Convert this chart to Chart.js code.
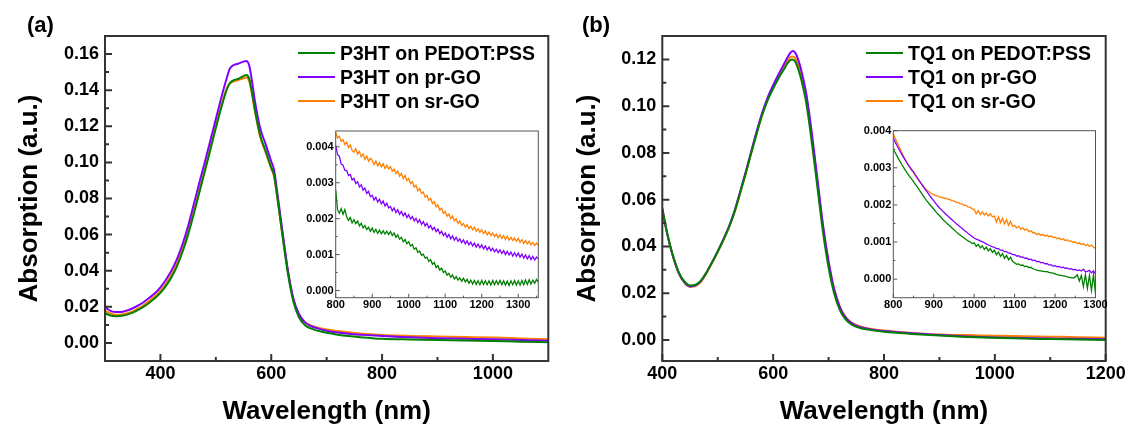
<!DOCTYPE html>
<html><head><meta charset="utf-8">
<script src="https://cdn.jsdelivr.net/npm/chart.js@4"></script>
<style>
html,body{margin:0;padding:0;background:#fff;overflow:hidden;width:1131px;height:427px;position:relative;}
canvas{position:absolute;}
.lbl{position:absolute;font-family:"Liberation Sans",Arial,sans-serif;font-weight:bold;color:#000;white-space:nowrap;}
.sw{position:absolute;height:2px;}
</style></head><body>
<canvas id="mainA" width="580" height="427" style="left:0px;top:0px"></canvas>
<canvas id="mainB" width="600" height="427" style="left:560px;top:0px"></canvas>
<canvas id="insetA" width="260" height="204" style="left:295px;top:118px"></canvas>
<canvas id="insetB" width="275" height="204" style="left:850px;top:118px"></canvas>
<script>
// ---------- data: panel (a), P3HT ----------
const wlA = [300,310,320,330,340,350,360,370,380,390,400,410,420,430,440,450,460,470,480,490,500,510,520,525,530,540,550,555,560,565,570,580,590,600,605,610,620,630,640,650,660,670,680,690,700,720,740,760,780,800,850,900,950,1000,1050,1100];
const greenA = [.0165,.0152,.0148,.0150,.0157,.0168,.0183,.0201,.0223,.0247,
 .0277,.0316,.0364,.0426,.0505,.0600,.0712,.0830,.0948,.1068,
 .1190,.1305,.1405,
 .1438,.1452,.1462,.1478,.1484,.1465,.1392,.1300,.1150,.1062,
 .0972,.0930,.0828,.0600,.0385,.0228,.0142,.0101,.0082,.0071,.0063,.0057,
 .0046,.0038,.0032,.0027,.0023,.0019,.0016,.0014,.0011,.0007,.0004];
const purpleA = [.0198,.0178,.0171,.0172,.0180,.0192,.0208,.0227,.0250,.0275,
 .0308,.0350,.0401,.0466,.0548,.0648,.0765,.0885,.1000,.1120,
 .1240,.1360,.1470,
 .1518,.1535,.1546,.1558,.1562,.1540,.1455,.1350,.1190,.1100,
 .1005,.0960,.0855,.0625,.0405,.0245,.0160,.0117,.0096,.0084,.0075,.0068,
 .0058,.0051,.0046,.0042,.0038,.0031,.0026,.0023,.0020,.0016,.0012];
const orangeA = [.0180,.0163,.0156,.0157,.0164,.0175,.0191,.0210,.0233,.0258,
 .0289,.0329,.0378,.0441,.0521,.0617,.0728,.0845,.0960,.1080,
 .1200,.1315,.1412,
 .1436,.1445,.1455,.1466,.1470,.1452,.1382,.1292,.1142,.1055,
 .0965,.0924,.0825,.0605,.0398,.0242,.0158,.0118,.0099,.0088,.0080,.0074,
 .0066,.0059,.0053,.0048,.0044,.0039,.0036,.0033,.0030,.0025,.0020];

// inset (a): 800-1355 nm
const insetXA = [800,805,810,815,820,825,830,835,840,845,850,855,860,865,870,875,880,885,890,895,
 900,905,910,915,920,925,930,935,940,945,950,955,960,965,970,975,980,985,990,995,
 1000,1005,1010,1015,1020,1025,1030,1035,1040,1045,1050,1055,1060,1065,1070,1075,1080,1085,1090,1095,
 1100,1105,1110,1115,1120,1125,1130,1135,1140,1145,1150,1155,1160,1165,1170,1175,1180,1185,1190,1195,
 1200,1205,1210,1215,1220,1225,1230,1235,1240,1245,1250,1255,1260,1265,1270,1275,1280,1285,1290,1295,
 1300,1305,1310,1315,1320,1325,1330,1335,1340,1345,1350,1355];
const insetOrangeA = [.00440,.00425,.00429,.00415,.00420,.00406,.00413,.00398,.00405,.00390,
 .00385,.00395,.00380,.00387,.00372,.00380,.00365,.00374,.00360,.00368,
 .00363,.00350,.00360,.00347,.00356,.00344,.00353,.00340,.00349,.00338,
 .00345,.00332,.00338,.00326,.00333,.00318,.00326,.00312,.00320,.00306,
 .00312,.00298,.00303,.00288,.00293,.00278,.00284,.00270,.00274,.00260,
 .00265,.00251,.00256,.00242,.00247,.00233,.00238,.00224,.00229,.00215,
 .00220,.00207,.00213,.00200,.00207,.00194,.00200,.00187,.00194,.00181,
 .00187,.00176,.00183,.00172,.00179,.00169,.00176,.00165,.00172,.00162,
 .00169,.00158,.00166,.00155,.00163,.00153,.00160,.00150,.00157,.00147,
 .00155,.00145,.00153,.00142,.00151,.00140,.00148,.00139,.00146,.00137,
 .00145,.00134,.00142,.00131,.00139,.00130,.00137,.00127,.00134,.00125,.00132,.00126];
const insetPurpleA = [.00405,.00378,.00374,.00352,.00349,.00335,.00334,.00320,.00323,.00308,
 .00312,.00298,.00303,.00288,.00294,.00279,.00285,.00270,.00276,.00261,
 .00265,.00252,.00260,.00246,.00254,.00241,.00249,.00235,.00243,.00230,
 .00234,.00222,.00230,.00217,.00225,.00212,.00220,.00208,.00216,.00203,
 .00211,.00199,.00206,.00194,.00201,.00189,.00197,.00184,.00192,.00180,
 .00187,.00174,.00181,.00169,.00176,.00164,.00171,.00158,.00165,.00153,
 .00160,.00148,.00156,.00144,.00152,.00140,.00148,.00137,.00144,.00133,
 .00141,.00130,.00138,.00127,.00135,.00124,.00132,.00121,.00129,.00119,
 .00127,.00116,.00124,.00113,.00121,.00111,.00118,.00108,.00115,.00105,
 .00113,.00103,.00111,.00100,.00109,.00099,.00107,.00096,.00105,.00095,
 .00104,.00093,.00101,.00090,.00099,.00088,.00097,.00086,.00095,.00085,.00093,.00088];
const insetGreenA = [.00280,.00225,.00215,.00228,.00212,.00225,.00205,.00195,.00203,.00188,
 .00197,.00186,.00193,.00180,.00187,.00174,.00181,.00170,.00176,.00165,
 .00174,.00162,.00170,.00159,.00168,.00158,.00166,.00157,.00165,.00156,
 .00164,.00153,.00160,.00148,.00155,.00143,.00148,.00136,.00142,.00130,
 .00136,.00124,.00128,.00115,.00119,.00106,.00110,.00098,.00101,.00090,
 .00093,.00081,.00086,.00073,.00078,.00064,.00069,.00057,.00062,.00050,
 .00054,.00043,.00048,.00037,.00043,.00032,.00039,.00029,.00035,.00026,
 .00034,.00024,.00031,.00020,.00029,.00018,.00028,.00017,.00027,.00016,
 .00028,.00017,.00027,.00016,.00027,.00015,.00028,.00016,.00027,.00017,
 .00028,.00016,.00027,.00015,.00026,.00014,.00027,.00016,.00028,.00015,
 .00027,.00015,.00028,.00016,.00029,.00017,.00030,.00018,.00029,.00020,.00031,.00023];

// ---------- data: panel (b), TQ1 ----------
const wlB = [400,405,410,415,420,430,440,450,460,470,480,490,500,510,520,530,540,550,560,570,580,590,600,610,620,625,630,635,640,645,650,660,670,680,690,700,710,720,730,740,750,760,780,800,850,900,950,1000,1050,1100,1150,1200];
const greenB = [.0563,.0500,.0445,.0397,.0355,
 .0288,.0250,.0233,.0236,.0255,.0290,.0333,.0378,.0427,.0480,
 .0545,.0625,.0708,.0795,.0880,.0960,.1025,.1075,.1120,.1160,
 .1180,.1195,.1200,.1190,.1160,.1120,
 .1010,.0840,.0650,.0460,.0310,.0200,.0130,.0090,.0068,.0056,.0049,
 .0041,.0035,
 .0026,.0019,.0013,.0009,.0006,.0004,.0002,.0000];
const purpleB = [.0560,.0497,.0442,.0394,.0352,
 .0285,.0246,.0229,.0233,.0253,.0290,.0334,.0380,.0430,.0484,
 .0550,.0631,.0715,.0803,.0890,.0970,.1037,.1090,.1138,.1182,
 .1205,.1225,.1236,.1228,.1200,.1160,
 .1050,.0880,.0685,.0490,.0335,.0218,.0142,.0098,.0074,.0061,.0053,
 .0044,.0038,
 .0029,.0021,.0015,.0011,.0008,.0006,.0005,.0003];
const orangeB = [.0563,.0499,.0443,.0394,.0351,
 .0283,.0244,.0227,.0230,.0250,.0286,.0330,.0376,.0425,.0479,
 .0544,.0624,.0708,.0796,.0882,.0963,.1029,.1080,.1127,.1170,
 .1192,.1208,.1212,.1204,.1178,.1140,
 .1037,.0870,.0678,.0488,.0336,.0220,.0145,.0101,.0077,.0064,.0056,
 .0046,.0040,
 .0030,.0023,.0021,.0018,.0016,.0014,.0012,.0009];

// inset (b): 800-1300 nm
const insetXB = [800,805,810,815,820,825,830,835,840,845,850,855,860,865,870,875,880,885,890,895,
 900,905,910,915,920,925,930,935,940,945,950,955,960,965,970,975,980,985,990,995,
 1000,1005,1010,1015,1020,1025,1030,1035,1040,1045,1050,1055,1060,1065,1070,1075,1080,1085,1090,1095,
 1100,1105,1110,1115,1120,1125,1130,1135,1140,1145,1150,1155,1160,1165,1170,1175,1180,1185,1190,1195,
 1200,1205,1210,1215,1220,1225,1230,1235,1240,1245,1250,1255,1260,1265,1270,1275,1280,1285,1290,1295,1300];
const insetOrangeB = [.00392,.00379,.00367,.00355,.00343,.00332,.00321,.00311,.00302,.00294,
 .00287,.00278,.00271,.00263,.00256,.00249,.00243,.00238,.00234,.00230,
 .00228,.00225,.00224,.00221,.00221,.00218,.00218,.00215,.00215,.00211,
 .00211,.00207,.00207,.00203,.00203,.00199,.00199,.00195,.00194,.00189,
 .00188,.00176,.00185,.00174,.00181,.00173,.00178,.00170,.00176,.00168,
 .00170,.00154,.00168,.00152,.00164,.00149,.00160,.00145,.00156,.00142,
 .00145,.00138,.00142,.00135,.00138,.00132,.00135,.00128,.00131,.00125,
 .00125,.00120,.00123,.00118,.00121,.00116,.00119,.00114,.00117,.00112,
 .00113,.00109,.00111,.00106,.00109,.00104,.00106,.00102,.00103,.00099,
 .00100,.00096,.00098,.00093,.00096,.00090,.00094,.00088,.00092,.00086,.00083];
const insetPurpleB = [.00380,.00369,.00358,.00348,.00338,.00329,.00320,.00311,.00303,.00296,
 .00289,.00280,.00272,.00264,.00256,.00248,.00240,.00233,.00225,.00218,
 .00211,.00204,.00197,.00191,.00186,.00180,.00175,.00170,.00165,.00160,
 .00155,.00150,.00146,.00141,.00137,.00132,.00128,.00123,.00119,.00115,
 .00111,.00108,.00106,.00103,.00101,.00098,.00095,.00092,.00090,.00087,
 .00086,.00082,.00082,.00078,.00078,.00074,.00074,.00070,.00070,.00066,
 .00066,.00062,.00063,.00059,.00060,.00056,.00057,.00053,.00054,.00050,
 .00051,.00047,.00048,.00044,.00045,.00041,.00042,.00038,.00039,.00035,
 .00036,.00033,.00034,.00031,.00032,.00029,.00030,.00027,.00028,.00025,
 .00026,.00023,.00025,.00022,.00027,.00020,.00021,.00024,.00017,.00022,.00014];
const insetGreenB = [.00350,.00340,.00330,.00320,.00311,.00302,.00293,.00285,.00277,.00270,
 .00263,.00255,.00247,.00239,.00231,.00223,.00215,.00208,.00201,.00195,
 .00189,.00182,.00176,.00170,.00164,.00158,.00153,.00148,.00143,.00138,
 .00133,.00128,.00123,.00119,.00115,.00111,.00107,.00103,.00100,.00096,
 .00098,.00088,.00094,.00084,.00090,.00080,.00086,.00076,.00082,.00072,
 .00078,.00066,.00073,.00061,.00069,.00056,.00064,.00052,.00059,.00048,
 .00044,.00040,.00041,.00037,.00038,.00034,.00035,.00031,.00032,.00028,
 .00026,.00024,.00023,.00022,.00021,.00020,.00020,.00018,.00017,.00016,
 .00014,.00012,.00011,.00010,.00009,.00008,.00006,.00005,.00004,.00003,
 .00006,.00012,-.00005,.00010,-.00020,.00012,-.00025,.00010,-.00030,.00012,-.00040];

// ---------- labels and ticks ----------
const legendA = ['P3HT on PEDOT:PSS','P3HT on pr-GO','P3HT on sr-GO'];
const legendB = ['TQ1 on PEDOT:PSS','TQ1 on pr-GO','TQ1 on sr-GO'];
const seriesColors = ['#008000','#8000ff','#ff8000'];
const panelLabels = ['(a)','(b)'];
const xTitle = 'Wavelength (nm)';
const yTitle = 'Absorption (a.u.)';
const xTicksA = [400,600,800,1000], xMinorA = [500,700,900];
const yTicksA = [0,0.02,0.04,0.06,0.08,0.10,0.12,0.14,0.16], yMinorA = [0.01,0.03,0.05,0.07,0.09,0.11,0.13,0.15];
const xTicksB = [400,600,800,1000,1200], xMinorB = [500,700,900,1100];
const yTicksB = [0,0.02,0.04,0.06,0.08,0.10,0.12], yMinorB = [0.01,0.03,0.05,0.07,0.09,0.11];
const insetXTicks = [800,900,1000,1100,1200,1300], insetXMinorA = [850,950,1050,1150,1250,1350], insetXMinorB = [850,950,1050,1150,1250];
const insetYTicks = [0,0.001,0.002,0.003,0.004], insetYMinor = [0.0005,0.0015,0.0025,0.0035];

// ---------- rendering ----------
Chart.defaults.font.family = '"Liberation Sans", Arial, sans-serif';
Chart.defaults.font.weight = 'bold';
Chart.defaults.color = '#000';

const frameTicks = {
  id: 'frameTicks',
  beforeDatasetsDraw(chart, args, o) {
    const {ctx, chartArea: a} = chart;
    if (o.fill) { ctx.save(); ctx.fillStyle = '#fff'; ctx.fillRect(a.left, a.top, a.right - a.left, a.bottom - a.top); ctx.restore(); }
  },
  afterDatasetsDraw(chart, args, o) {
    const {ctx, chartArea: a, scales: {x, y}} = chart;
    ctx.save();
    ctx.strokeStyle = o.color; ctx.lineWidth = o.width;
    ctx.strokeRect(a.left, a.top, a.right - a.left, a.bottom - a.top);
    ctx.beginPath();
    const xt = (vals, len) => vals.forEach(v => { const p = x.getPixelForValue(v); ctx.moveTo(p, a.bottom); ctx.lineTo(p, a.bottom - len); });
    const yt = (vals, len) => vals.forEach(v => { const p = y.getPixelForValue(v); ctx.moveTo(a.left, p); ctx.lineTo(a.left + len, p); });
    xt(o.xMajor, o.major); xt(o.xMinor, o.minor); yt(o.yMajor, o.major); yt(o.yMinor, o.minor);
    ctx.stroke();
    ctx.restore();
  }
};

function series(xs, ys, color, w, smooth) {
  const d = { data: xs.map((v, i) => ({x: v, y: ys[i]})), borderColor: color, borderWidth: w, pointRadius: 0, tension: 0, fill: false };
  if (smooth) d.cubicInterpolationMode = 'monotone';
  return d;
}

function makeChart(id, c) {
  const cv = document.getElementById(id);
  const W = cv.width, H = cv.height;
  return new Chart(cv, {
    type: 'line',
    data: { datasets: c.datasets },
    plugins: [frameTicks],
    options: {
      responsive: false, animation: false, devicePixelRatio: 1,
      layout: { padding: { left: 0, top: c.area.top, right: W - c.area.right, bottom: 0 } },
      plugins: {
        legend: { display: false }, tooltip: { enabled: false },
        frameTicks: { fill: c.fill, color: c.frameColor, width: c.frameWidth, major: c.major, minor: c.minor,
          xMajor: c.xTicks, xMinor: c.xMinor, yMajor: c.yTicks, yMinor: c.yMinor }
      },
      scales: {
        x: {
          type: 'linear', min: c.xMin, max: c.xMax,
          grid: { display: false, drawTicks: false }, border: { display: false },
          afterBuildTicks: s => { s.ticks = c.xTicks.map(v => ({value: v})); },
          afterFit: s => { s.height = H - c.area.bottom; },
          ticks: { font: { size: c.tickSize, weight: 'bold' }, padding: c.xPad, maxRotation: 0, autoSkip: false, callback: v => String(v) },
          title: c.xTitle ? { display: true, text: c.xTitle, font: { size: 26, weight: 'bold' }, padding: { top: 0, bottom: 0 } } : { display: false }
        },
        y: {
          type: 'linear', min: c.yMin, max: c.yMax,
          grid: { display: false, drawTicks: false }, border: { display: false },
          afterBuildTicks: s => { s.ticks = c.yTicks.map(v => ({value: v})); },
          afterFit: s => { s.width = c.area.left; },
          ticks: { font: { size: c.tickSize, weight: 'bold' }, padding: c.yPad, autoSkip: false, callback: v => v.toFixed(c.dec) },
          title: c.yTitle ? { display: true, text: c.yTitle, font: { size: 26, weight: 'bold' }, padding: { top: c.yTitlePad, bottom: 0 } } : { display: false }
        }
      }
    }
  });
}

makeChart('mainA', {
  datasets: [series(wlA, greenA, seriesColors[0], 2, true), series(wlA, purpleA, seriesColors[1], 2, true), series(wlA, orangeA, seriesColors[2], 2, true)],
  area: { left: 105, top: 36, right: 548.3, bottom: 361 },
  xMin: 300, xMax: 1100, yMin: -0.01, yMax: 0.17,
  xTicks: xTicksA, xMinor: xMinorA, yTicks: yTicksA, yMinor: yMinorA, dec: 2,
  tickSize: 18, xPad: 2, yPad: 6, major: 7, minor: 4, frameColor: '#333', frameWidth: 2, fill: false,
  xTitle: xTitle, yTitle: yTitle, yTitlePad: 14
});
makeChart('mainB', {
  datasets: [series(wlB, greenB, seriesColors[0], 2, true), series(wlB, purpleB, seriesColors[1], 2, true), series(wlB, orangeB, seriesColors[2], 2, true)],
  area: { left: 102.3, top: 36, right: 545.7, bottom: 361 },
  xMin: 400, xMax: 1200, yMin: -0.009, yMax: 0.13,
  xTicks: xTicksB, xMinor: xMinorB, yTicks: yTicksB, yMinor: yMinorB, dec: 2,
  tickSize: 18, xPad: 2, yPad: 6, major: 7, minor: 4, frameColor: '#333', frameWidth: 2, fill: false,
  xTitle: xTitle, yTitle: yTitle, yTitlePad: 12
});
makeChart('insetA', {
  datasets: [series(insetXA, insetGreenA, seriesColors[0], 1.3, false), series(insetXA, insetPurpleA, seriesColors[1], 1.3, false), series(insetXA, insetOrangeA, seriesColors[2], 1.3, false)],
  area: { left: 40.7, top: 13, right: 243.3, bottom: 179.7 },
  xMin: 800, xMax: 1355, yMin: -0.0002, yMax: 0.00444,
  xTicks: insetXTicks, xMinor: insetXMinorA, yTicks: insetYTicks, yMinor: insetYMinor, dec: 3,
  tickSize: 11, xPad: 1, yPad: 2, major: 4, minor: 2, frameColor: '#555', frameWidth: 1, fill: true
});
makeChart('insetB', {
  datasets: [series(insetXB, insetGreenB, seriesColors[0], 1.3, false), series(insetXB, insetPurpleB, seriesColors[1], 1.3, false), series(insetXB, insetOrangeB, seriesColors[2], 1.3, false)],
  area: { left: 43.3, top: 12.7, right: 245.5, bottom: 179.7 },
  xMin: 800, xMax: 1300, yMin: -0.0005, yMax: 0.004,
  xTicks: insetXTicks, xMinor: insetXMinorB, yTicks: insetYTicks, yMinor: insetYMinor, dec: 3,
  tickSize: 11, xPad: 1, yPad: 2, major: 4, minor: 2, frameColor: '#555', frameWidth: 1, fill: true
});

// legends and panel labels (HTML text)
function addLegend(names, swLeft, textLeft, rows) {
  names.forEach((n, i) => {
    const sw = document.createElement('div');
    sw.className = 'sw';
    sw.style.cssText = `left:${swLeft}px;top:${rows[i] - 1}px;width:37px;background:${seriesColors[i]}`;
    document.body.appendChild(sw);
    const t = document.createElement('div');
    t.className = 'lbl';
    t.style.cssText = `left:${textLeft}px;top:${rows[i] - 12}px;font-size:19.5px;line-height:24px`;
    t.textContent = n;
    document.body.appendChild(t);
  });
}
addLegend(legendA, 298, 340, [53.3, 76.7, 101]);
addLegend(legendB, 866, 908, [53.3, 77.3, 101]);
[[panelLabels[0], 27], [panelLabels[1], 582]].forEach(([txt, left]) => {
  const d = document.createElement('div');
  d.className = 'lbl';
  d.style.cssText = `left:${left}px;top:12px;font-size:22px;line-height:26px`;
  d.textContent = txt;
  document.body.appendChild(d);
});
</script>
</body></html>
